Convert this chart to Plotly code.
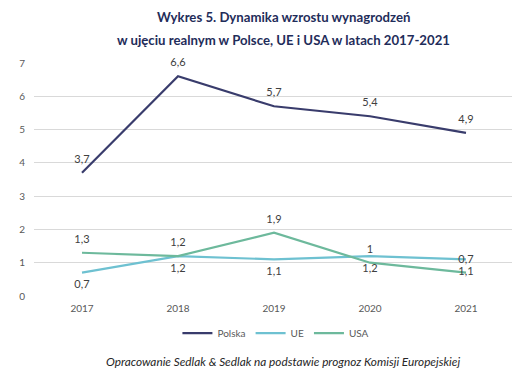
import plotly.graph_objects as go

years = ["2017", "2018", "2019", "2020", "2021"]
polska = [3.7, 6.6, 5.7, 5.4, 4.9]
ue = [0.7, 1.2, 1.1, 1.2, 1.1]
usa = [1.3, 1.2, 1.9, 1.0, 0.7]

title_lines = ["Wykres 5. Dynamika wzrostu wynagrodzeń",
               "w ujęciu realnym w Polsce, UE i USA w latach 2017-2021"]
source = "Opracowanie Sedlak & Sedlak na podstawie prognoz Komisji Europejskiej"

def fmt(vals):
    return [f"{v:g}".replace(".", ",") for v in vals]

FONT = "Lato"
LBL = dict(family=FONT, size=11, color="#404040")

fig = go.Figure()
series = [("Polska", polska, "#393c6c", "top center"),
          ("UE", ue, "#6ec1d1", "bottom center"),
          ("USA", usa, "#6db99c", "top center")]
for name, vals, color, pos in series:
    fig.add_trace(go.Scatter(
        x=years, y=vals, name=name, mode="lines",
        line=dict(color=color, width=2.2),
    ))
for name, vals, color, pos in series:
    fig.add_trace(go.Scatter(
        x=years, y=vals, name=name, mode="markers+text", showlegend=False,
        marker=dict(size=10, opacity=0, color=color),
        text=fmt(vals), textposition=pos, textfont=LBL,
        cliponaxis=False, hoverinfo="skip",
    ))

# the page body has an 8px margin, so the figure is drawn 8px in from the window's corner
fig.update_layout(
    width=512, height=380,
    margin=dict(l=26, r=6, t=55, b=92, autoexpand=False),
    paper_bgcolor="white", plot_bgcolor="white",
    showlegend=True,
    legend=dict(orientation="h", x=0.504, xanchor="center", y=-0.159, yanchor="middle",
                font=dict(family=FONT, size=10, color="#595959"),
                tracegroupgap=0),
    xaxis=dict(type="category", range=[-0.5, 4.5], showgrid=False, showline=False,
               ticks="", ticklabelstandoff=5, automargin=False,
               tickfont=dict(family=FONT, size=10, color="#595959")),
    yaxis=dict(range=[0, 7], dtick=1, showgrid=True, gridcolor="#d9d9d9", gridwidth=1,
               zeroline=False, showline=False, ticks="", ticklabelstandoff=8, automargin=False,
               tickfont=dict(family=FONT, size=10, color="#595959")),
    annotations=[
        dict(text="<b>" + title_lines[0] + "</b>", xref="paper", yref="paper",
             x=(283 - 34) / 480, y=(296 - 17) / 233, xanchor="center", yanchor="middle",
             showarrow=False, font=dict(family=FONT, size=13.2, color="#1f2d5a")),
        dict(text="<b>" + title_lines[1] + "</b>", xref="paper", yref="paper",
             x=(283 - 34) / 480, y=(296 - 40) / 233, xanchor="center", yanchor="middle",
             showarrow=False, font=dict(family=FONT, size=13.2, color="#1f2d5a")),
        dict(text="<i>" + source + "</i>", xref="paper", yref="paper",
             x=(283 - 34) / 480, y=(296 - 361) / 233, xanchor="center", yanchor="middle",
             showarrow=False, font=dict(family=FONT, size=11.8, color="#262626")),
    ],
)

fig.write_html("out.html")
